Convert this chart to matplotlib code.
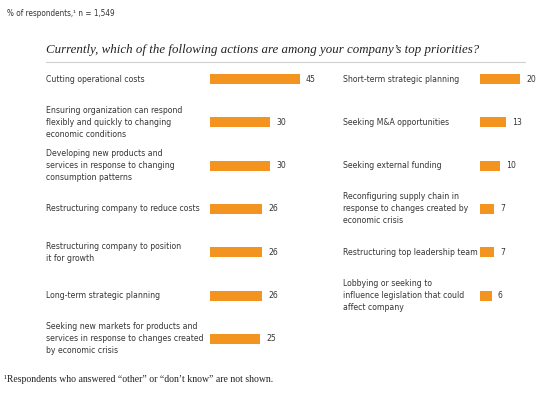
import matplotlib
matplotlib.use("Agg")
import matplotlib.pyplot as plt
from matplotlib.lines import Line2D
from matplotlib.transforms import blended_transform_factory
from matplotlib import font_manager
from matplotlib.font_manager import FontProperties

# data
left_labels = [
    "Cutting operational costs",
    "Ensuring organization can respond\nflexibly and quickly to changing\neconomic conditions",
    "Developing new products and\nservices in response to changing\nconsumption patterns",
    "Restructuring company to reduce costs",
    "Restructuring company to position\nit for growth",
    "Long-term strategic planning",
    "Seeking new markets for products and\nservices in response to changes created\nby economic crisis",
]
left_values = [45, 30, 30, 26, 26, 26, 25]

right_labels = [
    "Short-term strategic planning",
    "Seeking M&A opportunities",
    "Seeking external funding",
    "Reconfiguring supply chain in\nresponse to changes created by\neconomic crisis",
    "Restructuring top leadership team",
    "Lobbying or seeking to\ninfluence legislation that could\naffect company",
]
right_values = [20, 13, 10, 7, 7, 6]

title = "Currently, which of the following actions are among your company\u2019s top priorities?"
header = "% of respondents,\u00b9 n = 1,549"
footnote = "\u00b9Respondents who answered \u201cother\u201d or \u201cdon\u2019t know\u201d are not shown."

bar_color = "#F39320"
text_color = "#353535"

# look for a narrow sans face, otherwise plain Liberation Sans
narrow = None
for f in font_manager.fontManager.ttflist:
    cond = ("Narrow" in f.name or "Condensed" in f.name
            or f.stretch in ("condensed", "semi-condensed"))
    if cond and f.style == "normal" and f.weight in (400, "normal", "regular"):
        narrow = f.fname
        break

if narrow:
    label_font = FontProperties(fname=narrow, size=6.2)
    small_font = FontProperties(fname=narrow, size=5.9)
else:
    label_font = FontProperties(family="Liberation Sans", size=6.0)
    small_font = FontProperties(family="Liberation Sans", size=5.6)

W, H = 545, 397
fig = plt.figure(figsize=(W / 100, H / 100), dpi=100)


def fx(px):
    return px / W


def fy(py):
    return 1 - py / H


row_h = 43.3
top = 79 - row_h / 2
bottom = top + 7 * row_h


def make_axes(x0, x1, xmax):
    ax = fig.add_axes([fx(x0), fy(bottom), fx(x1) - fx(x0), (bottom - top) / H])
    ax.set_xlim(0, xmax)
    ax.set_ylim(6.5, -0.5)
    ax.axis("off")
    return ax


axL = make_axes(210, 330, 60)
axR = make_axes(480, 540, 30)


def draw(ax, labels, values, label_x):
    ys = list(range(len(values)))
    ax.barh(ys, values, height=10 / row_h, color=bar_color)
    tr = blended_transform_factory(fig.transFigure, ax.transData)
    for y, lab, v in zip(ys, labels, values):
        ax.text(fx(label_x), y, lab, transform=tr, ha="left", va="center",
                fontproperties=label_font, color=text_color, linespacing=1.42)
        ax.text(v + 3, y, str(v), ha="left", va="center",
                fontproperties=label_font, color=text_color)


draw(axL, left_labels, left_values, 46)
draw(axR, right_labels, right_values, 343)

fig.text(fx(7), fy(13), header, ha="left", va="center",
         fontproperties=small_font, color=text_color)
fig.text(fx(46), fy(50), title, ha="left", va="center", fontsize=9.3,
         family="Liberation Serif", style="italic", color="#222222")
fig.add_artist(Line2D([fx(46), fx(525)], [fy(62), fy(62)],
                      transform=fig.transFigure, color="#d0d0d0", lw=0.8))
fig.text(fx(4), fy(379), footnote, ha="left", va="center", fontsize=7,
         family="Liberation Serif", color="#222222")

fig.savefig("out.png", dpi=100)
